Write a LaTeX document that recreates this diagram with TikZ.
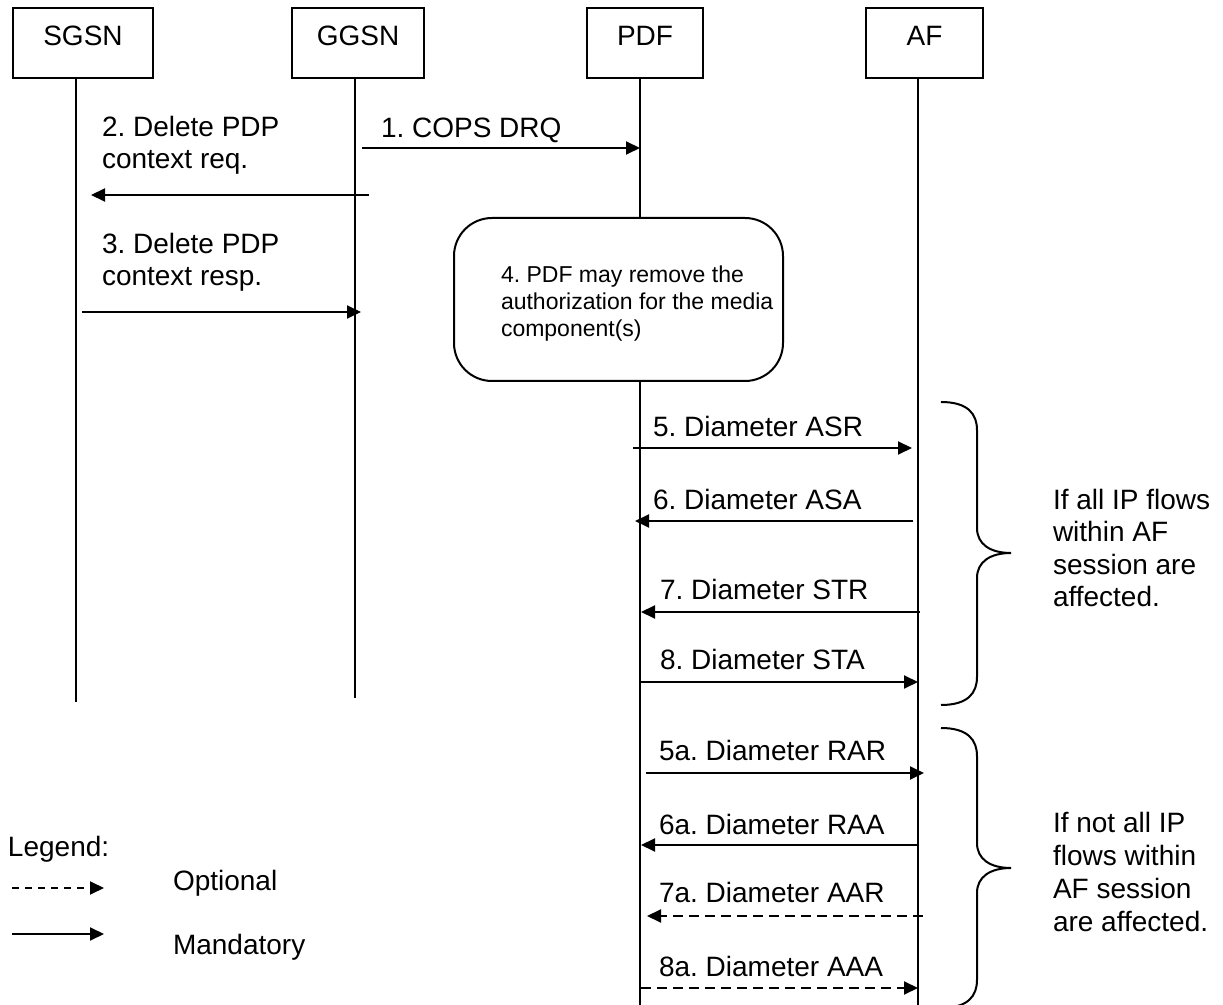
\documentclass[tikz,border=0pt]{standalone}
\usepackage{fontspec}
\setmainfont{Liberation Sans}
\usetikzlibrary{arrows.meta}
\frenchspacing
\begin{document}
\begin{tikzpicture}[x=0.5pt,y=-0.5pt,
  every node/.style={inner sep=0pt,outer sep=0pt},
  hdrbox/.style={draw,line width=1pt,minimum height=35pt},
  lbl/.style={anchor=base west,font=\fontsize{14}{16}\selectfont},
  hdrtxt/.style={anchor=base,font=\fontsize{14}{16}\selectfont},
  smalltxt/.style={anchor=base west,font=\fontsize{11.5}{13.5}\selectfont},
  life/.style={line width=1pt},
  msg/.style={line width=1pt,-{Triangle[length=7pt,width=6.5pt]}},
  optmsg/.style={msg,dash pattern=on 5pt off 3pt},
  bracepath/.style={line width=1pt}]
\useasboundingbox (0,0) rectangle (1223,1005);

% header boxes
\node[hdrbox,minimum width=70pt] (sgsn) at (83,43) {};
\node[hdrbox,minimum width=66pt] (ggsn) at (358,43) {};
\node[hdrbox,minimum width=58pt] (pdf) at (645,43) {};
\node[hdrbox,minimum width=58.5pt] (af) at (924.5,43) {};
\node[hdrtxt] (sgsnT) at (83,46) {SGSN};
\node[hdrtxt] (ggsnT) at (358,46) {GGSN};
\node[hdrtxt] (pdfT) at (645,46) {PDF};
\node[hdrtxt] (afT) at (924.5,46) {AF};

% lifelines
\coordinate (sgsnTop) at (76,78);  \coordinate (sgsnEnd) at (76,702);
\coordinate (ggsnTop) at (355,78); \coordinate (ggsnEnd) at (355,698);
\coordinate (pdfTop) at (640,78);  \coordinate (pdfEnd) at (640,1006);
\coordinate (afTop) at (918,78);   \coordinate (afEnd) at (918,1006);
\draw[life] (sgsnTop) -- (sgsnEnd);
\draw[life] (ggsnTop) -- (ggsnEnd);
\draw[life] (pdfTop) -- (pdfEnd);
\draw[life] (afTop) -- (afEnd);

% step 4 box
\node[draw,line width=1pt,rounded corners=19pt,fill=white,
      minimum width=164.5pt,minimum height=81.5pt] (step4) at (618.5,299.5) {};
\node[smalltxt] (s4a) at (501,283) {4. PDF may remove the};
\node[smalltxt] (s4b) at (501,310) {authorization for the media};
\node[smalltxt] (s4c) at (501,337) {component(s)};

% message 1
\node[lbl] (l1) at (381,138) {1. COPS DRQ};
\coordinate (m1a) at (362,148); \coordinate (m1b) at (640,148);
\draw[msg] (m1a) -- (m1b);
% message 2
\node[lbl] (l2a) at (102,137) {2. Delete PDP};
\node[lbl] (l2b) at (102,169) {context req.};
\coordinate (m2a) at (369,195); \coordinate (m2b) at (91,195);
\draw[msg] (m2a) -- (m2b);
% message 3
\node[lbl] (l3a) at (102,254) {3. Delete PDP};
\node[lbl] (l3b) at (102,286) {context resp.};
\coordinate (m3a) at (82,312); \coordinate (m3b) at (361,312);
\draw[msg] (m3a) -- (m3b);

% Diameter messages
\node[lbl] (l5) at (653,437) {5. Diameter ASR};
\coordinate (m5a) at (633,448); \coordinate (m5b) at (912,448);
\draw[msg] (m5a) -- (m5b);
\node[lbl] (l6) at (653,510) {6. Diameter ASA};
\coordinate (m6a) at (913,521); \coordinate (m6b) at (635,521);
\draw[msg] (m6a) -- (m6b);
\node[lbl] (l7) at (660,600) {7. Diameter STR};
\coordinate (m7a) at (920,612); \coordinate (m7b) at (641,612);
\draw[msg] (m7a) -- (m7b);
\node[lbl] (l8) at (660,670) {8. Diameter STA};
\coordinate (m8a) at (641,682); \coordinate (m8b) at (918,682);
\draw[msg] (m8a) -- (m8b);
\node[lbl] (l5a) at (659,761) {5a. Diameter RAR};
\coordinate (m5aa) at (646,773); \coordinate (m5ab) at (924,773);
\draw[msg] (m5aa) -- (m5ab);
\node[lbl] (l6a) at (659,835) {6a. Diameter RAA};
\coordinate (m6aa) at (918,845); \coordinate (m6ab) at (641,845);
\draw[msg] (m6aa) -- (m6ab);
\node[lbl] (l7a) at (659,903) {7a. Diameter AAR};
\coordinate (m7aa) at (923,916); \coordinate (m7ab) at (647,916);
\draw[optmsg] (m7aa) -- (m7ab);
\node[lbl] (l8a) at (659,977) {8a. Diameter AAA};
\coordinate (m8aa) at (641,988); \coordinate (m8ab) at (918,988);
\draw[optmsg] (m8aa) -- (m8ab);

% braces
\draw[bracepath] (941,402) .. controls (968,402) and (977,414) .. (977,430)
  -- (977,528) .. controls (977,544) and (990,553) .. (1011,553)
  .. controls (990,553) and (977,562) .. (977,578)
  -- (977,677) .. controls (977,693) and (968,705) .. (941,705);
\draw[bracepath] (941,728) .. controls (968,728) and (977,740) .. (977,756)
  -- (977,843) .. controls (977,859) and (990,868) .. (1011,868)
  .. controls (990,868) and (977,877) .. (977,893)
  -- (977,980) .. controls (977,996) and (968,1008) .. (941,1008);

\node[lbl] (b1a) at (1053,510) {If all IP flows};
\node[lbl] (b1b) at (1053,542) {within AF};
\node[lbl] (b1c) at (1053,575) {session are};
\node[lbl] (b1d) at (1053,607) {affected.};
\node[lbl] (b2a) at (1053,833) {If not all IP};
\node[lbl] (b2b) at (1053,866) {flows within};
\node[lbl] (b2c) at (1053,899) {AF session};
\node[lbl] (b2d) at (1053,932) {are affected.};

% legend
\node[lbl] (leg) at (8,857) {Legend:};
\coordinate (lgOa) at (12,888); \coordinate (lgOb) at (104,888);
\draw[optmsg,dash pattern=on 3.5pt off 3pt] (lgOa) -- (lgOb);
\node[lbl] (lgOt) at (173,891) {Optional};
\coordinate (lgMa) at (12,934); \coordinate (lgMb) at (104,934);
\draw[msg] (lgMa) -- (lgMb);
\node[lbl] (lgMt) at (173,955) {Mandatory};
\end{tikzpicture}
\end{document}
